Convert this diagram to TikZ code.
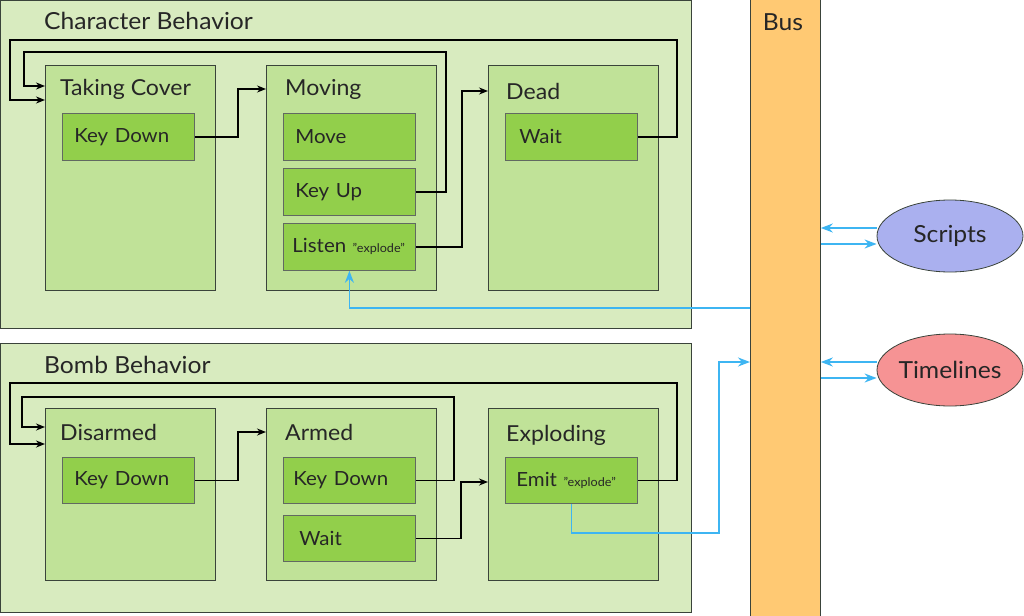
\documentclass[tikz,border=0pt]{standalone}
\usepackage{fontspec}
\setmainfont{Lato}[FakeStretch=1.05]
\usepackage{tikz}
\usetikzlibrary{
  arrows.meta,%
  shapes.geometric,%
  positioning,
  calc
}
\definecolor{outergreen}{HTML}{D8EBBF}
\definecolor{stategreen}{HTML}{C0E298}
\definecolor{actgreen}{HTML}{92CF4B}
\definecolor{edgegray}{HTML}{3A433A}
\definecolor{busorange}{HTML}{FFC973}
\definecolor{scriptblue}{HTML}{AAB0EF}
\definecolor{timered}{HTML}{F69394}
\definecolor{msgblue}{HTML}{3DB5F2}
\tikzset{>={Stealth[length=9pt,width=7pt]}}
\tikzset{
  behavior/.style={draw=edgegray, fill=outergreen, line width=0.8pt, anchor=north west,
    minimum width=691pt, inner sep=0pt},
  statebox/.style={draw=edgegray, fill=stategreen, line width=0.8pt, anchor=north west,
    minimum width=170pt, inner sep=0pt},
  actbox/.style={draw=edgegray!80, fill=actgreen, line width=0.8pt, anchor=north west,
    text width=108pt, inner xsep=12pt, minimum height=47pt, align=left,
    font=\fontsize{19.5}{22}\selectfont, text=black!85},
  bigtitle/.style={anchor=west, inner sep=0pt, font=\fontsize{23.5}{26}\selectfont, text=black!85},
  statetitle/.style={anchor=west, inner sep=0pt, font=\fontsize{22}{25}\selectfont, text=black!85},
  source/.style={ellipse, draw=edgegray, line width=0.8pt, minimum width=146pt,
    minimum height=72pt, inner sep=0pt, font=\fontsize{23.5}{26}\selectfont, text=black!85},
  flow/.style={->, line width=1.8pt, black},
  busflow/.style={-{Stealth[length=12pt,width=9pt]}, line width=1.8pt, msgblue},
}
\newcommand{\quoted}[1]{{\fontsize{12}{14}\selectfont "#1"}}
\begin{document}
\begin{tikzpicture}[x=1pt, y=-1pt]
  \useasboundingbox (0,0) rectangle (1024,615);
  % character behavior
  \node[behavior, minimum height=328pt] (charb) at (0,0) {};
  \node[bigtitle] (charbT) at (44,21) {Character Behavior};
  \node[statebox, minimum height=225pt] (cover) at (45,65) {};
  \node[statebox, minimum height=225pt] (moving) at (266,65) {};
  \node[statebox, minimum height=225pt] (dead) at (488,65) {};
  \node[statetitle] (coverT) at (60,89) {Taking Cover};
  \node[statetitle] (movingT) at (285,89) {Moving};
  \node[statetitle] (deadT) at (506,91) {Dead};
  \node[actbox] (ckeydown) at (62,113) {Key Down};
  \node[actbox] (move) at (283,113) {Move};
  \node[actbox] (keyup) at (283,168) {Key Up};
  \node[actbox, inner xsep=9pt, text width=114pt] (listen) at (283,223) {Listen \quoted{explode}};
  \node[actbox, inner xsep=14pt, text width=104pt] (cwait) at (505,113) {Wait};
  % bomb behavior
  \node[behavior, minimum height=269pt] (bombb) at (0,343) {};
  \node[bigtitle] (bombbT) at (44,365) {Bomb Behavior};
  \node[statebox, minimum height=172pt] (disarmed) at (45,408) {};
  \node[statebox, minimum height=172pt] (armed) at (266,408) {};
  \node[statebox, minimum height=172pt] (exploding) at (488,408) {};
  \node[statetitle] (disarmedT) at (60,432) {Disarmed};
  \node[statetitle] (armedT) at (285,432) {Armed};
  \node[statetitle] (explodingT) at (506,435) {Exploding};
  \node[actbox, minimum height=46pt] (bkeydown) at (62,457) {Key Down};
  \node[actbox, minimum height=46pt, inner xsep=10pt, text width=112pt] (akeydown) at (283,457) {Key Down};
  \node[actbox, minimum height=46pt, inner xsep=16pt, text width=100pt] (await) at (283,515) {Wait};
  \node[actbox, minimum height=46pt, inner xsep=11pt, text width=110pt] (emit) at (505,457) {Emit \quoted{explode}};
  % bus and sources
  \node[draw=edgegray, fill=busorange, line width=0.8pt, anchor=north west,
    minimum width=70pt, minimum height=617pt, inner sep=0pt] (bus) at (750,-1) {};
  \node[font=\fontsize{23.5}{26}\selectfont, text=black!85] (busT) at (783,22) {Bus};
  \node[source, fill=scriptblue] (scripts) at (950,236) {Scripts};
  \node[source, fill=timered] (timelines) at (950,370) {Timelines};
  % state transitions
  \draw[flow] (ckeydown.east) -| (238,89) -- (moving.west |- movingT.center);
  \draw[flow] (keyup.east) -| (446,52) -| (24,86) -- (cover.west |- 0,86);
  \draw[flow] (cwait.east) -| (677,40) -| (10,100) -- (cover.west |- 0,100);
  \draw[flow] (listen.east) -| (462,91) -- (dead.west |- deadT.center);
  \draw[flow] (bkeydown.east) -| (238,432) -- (armed.west |- armedT.center);
  \draw[flow] (akeydown.east) -| (454,397) -| (22,427) -- (disarmed.west |- 0,427);
  \draw[flow] (emit.east) -| (677,383) -| (10,444) -- (disarmed.west |- 0,444);
  \draw[flow] (await.east) -| (461,482) -- (exploding.west |- 0,482);
  % messages on the bus
  \draw[busflow] (bus.west |- 0,308) -| (listen.south);
  \draw[busflow] (emit.south) |- (719,533) |- (bus.west |- 0,362);
  \draw[busflow] (scripts.west |- 0,228) -- (bus.east |- 0,228);
  \draw[busflow] (bus.east |- 0,244) -- (scripts.west |- 0,244);
  \draw[busflow] (timelines.west |- 0,362) -- (bus.east |- 0,362);
  \draw[busflow] (bus.east |- 0,378) -- (timelines.west |- 0,378);
\end{tikzpicture}
\end{document}
